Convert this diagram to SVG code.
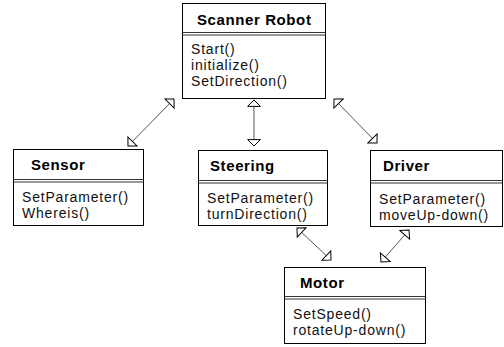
<svg xmlns="http://www.w3.org/2000/svg" width="504" height="347" viewBox="0 0 504 347">
  <style>
    .box { fill: #ffffff; stroke: #000000; stroke-width: 1; }
    .sep { stroke: #333333; stroke-width: 1; }
    .title { font-family: "Liberation Sans", Arial, sans-serif; font-weight: bold; font-size: 15px; letter-spacing: 0.6px; fill: #000000; }
    .op { font-family: "Liberation Sans", Arial, sans-serif; font-size: 14px; letter-spacing: 0.8px; fill: #111111; }
    .link { stroke: #555555; stroke-width: 1; fill: none; marker-start: url(#open); marker-end: url(#open); }
  </style>
  <defs>
    <!-- hollow navigability head, right-angled at the tip -->
    <marker id="open" viewBox="-1 -1 9 15" markerWidth="9" markerHeight="15" refX="6.4" refY="6.4" markerUnits="userSpaceOnUse" orient="auto-start-reverse">
      <path d="M0,0 L6.4,6.4 L0,12.8 Z" fill="#ffffff" stroke="#000000" stroke-width="1"/>
    </marker>
  </defs>
  <rect width="504" height="347" fill="#ffffff"/>

  <g id="connectors">
    <line class="link" x1="174" y1="99" x2="128" y2="146"/>
    <line class="link" x1="254" y1="100" x2="254" y2="146"/>
    <line class="link" x1="334" y1="99" x2="377" y2="143"/>
    <line class="link" x1="297" y1="228" x2="331" y2="260"/>
    <line class="link" x1="409" y1="230" x2="381" y2="262"/>
  </g>

  <g id="scanner-robot">
    <rect class="box" x="182.5" y="3.5" width="143" height="95"/>
    <line class="sep" x1="182.5" y1="32.5" x2="325.5" y2="32.5"/>
    <line class="sep" x1="182.5" y1="35" x2="325.5" y2="35"/>
    <text class="title" x="197" y="25">Scanner Robot</text>
    <text class="op" x="191" y="54">Start()</text>
    <text class="op" x="191" y="70">initialize()</text>
    <text class="op" x="191" y="86">SetDirection()</text>
  </g>

  <g id="sensor">
    <rect class="box" x="13.5" y="149.5" width="130" height="76"/>
    <line class="sep" x1="13.5" y1="179.5" x2="143.5" y2="179.5"/>
    <line class="sep" x1="13.5" y1="182" x2="143.5" y2="182"/>
    <text class="title" x="31" y="170">Sensor</text>
    <text class="op" x="22" y="202">SetParameter()</text>
    <text class="op" x="22" y="218">Whereis()</text>
  </g>

  <g id="steering">
    <rect class="box" x="198.5" y="150.5" width="129" height="75"/>
    <line class="sep" x1="198.5" y1="180.5" x2="327.5" y2="180.5"/>
    <line class="sep" x1="198.5" y1="183" x2="327.5" y2="183"/>
    <text class="title" x="210" y="171">Steering</text>
    <text class="op" x="207" y="203">SetParameter()</text>
    <text class="op" x="207" y="219">turnDirection()</text>
  </g>

  <g id="driver">
    <rect class="box" x="370.5" y="150.5" width="132" height="76"/>
    <line class="sep" x1="370.5" y1="180.5" x2="502.5" y2="180.5"/>
    <line class="sep" x1="370.5" y1="183" x2="502.5" y2="183"/>
    <text class="title" x="383" y="171">Driver</text>
    <text class="op" x="379" y="204">SetParameter()</text>
    <text class="op" x="379" y="220">moveUp-down()</text>
  </g>

  <g id="motor">
    <rect class="box" x="284.5" y="267.5" width="141" height="76"/>
    <line class="sep" x1="284.5" y1="296.5" x2="425.5" y2="296.5"/>
    <line class="sep" x1="284.5" y1="299" x2="425.5" y2="299"/>
    <text class="title" x="300" y="288">Motor</text>
    <text class="op" x="293" y="319">SetSpeed()</text>
    <text class="op" x="293" y="335">rotateUp-down()</text>
  </g>
</svg>
